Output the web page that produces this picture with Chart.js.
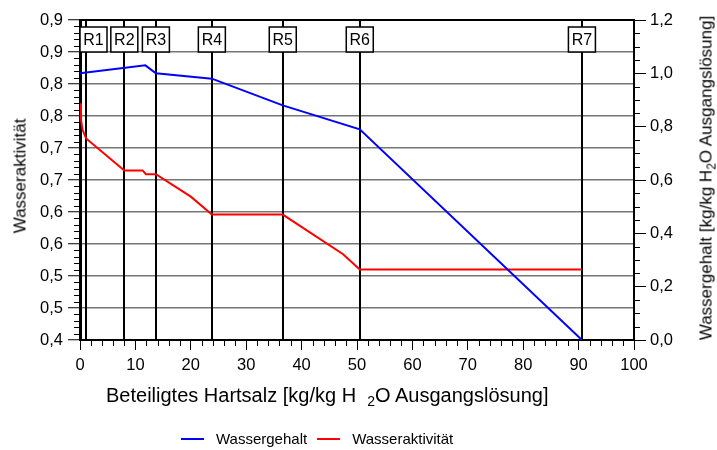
<!DOCTYPE html>
<html>
<head>
<meta charset="utf-8">
<script src="https://cdn.jsdelivr.net/npm/chart.js@4.4.1/dist/chart.umd.min.js"></script>
<style>
  body { margin: 0; background: #fff; }
  #wrap { position: relative; width: 717px; height: 450px; font-family: "Liberation Sans", Arial, sans-serif; color: #000; }
  #chart { position: absolute; left: 0; top: 0; }
  .ttl { position: absolute; white-space: nowrap; line-height: 1; }
  .rot { transform: translate(-50%, -50%) rotate(-90deg); }
  sub { font-size: 0.7em; vertical-align: -0.3em; line-height: 0; }
  #legend { position: absolute; top: 430px; left: 181px; display: flex; align-items: center; font-size: 15px; white-space: nowrap; }
  #legend span.line { display: inline-block; width: 23px; height: 2px; margin-right: 12px; }
  #legend .item { display: flex; align-items: center; margin-right: 10px; }
</style>
</head>
<body>
<div id="wrap">
  <canvas id="chart" width="717" height="450"></canvas>
  <div class="ttl" style="left:106px; top:385px; font-size:20px;">Beteiligtes Hartsalz [kg/kg H&nbsp;&nbsp;<sub>2</sub>O Ausgangslösung]</div>
  <div class="ttl rot" style="left:20px; top:176px; font-size:17px;">Wasseraktivität</div>
  <div class="ttl rot" style="left:706px; top:178px; font-size:17px;">Wassergehalt [kg/kg H<sub>2</sub>O Ausgangslösung]</div>
  <div id="legend">
    <div class="item"><span class="line" style="background:#0000ff"></span>Wassergehalt</div>
    <div class="item"><span class="line" style="background:#ff0000"></span>Wasseraktivität</div>
  </div>
</div>
<script>
// Wassergehalt (right axis)
const contentX = [0, 11.8, 13.7, 23.8, 36.6, 50.5, 90.6];
const contentY = [1.0, 1.03, 1.0, 0.98, 0.88, 0.79, 0.0];

// Wasseraktivität (left axis)
const activityX = [0, 0.18, 0.48, 1.1, 8.0, 11.3, 11.9, 13.7, 20.0, 23.8, 36.6, 47.5, 50.5, 90.6];
const activityY = [0.77, 0.744, 0.728, 0.715, 0.665, 0.665, 0.659, 0.659, 0.624, 0.596, 0.596, 0.534, 0.51, 0.51];

// region markers
const regionX = [1.1, 8.0, 13.7, 23.8, 36.6, 50.5, 90.6];
const regionLabels = ['R1', 'R2', 'R3', 'R4', 'R5', 'R6', 'R7'];

// tick labels
const xTickLabels = ['0', '10', '20', '30', '40', '50', '60', '70', '80', '90', '100'];
const activityTickLabels = ['0,4', '0,5', '0,5', '0,6', '0,6', '0,7', '0,7', '0,8', '0,8', '0,9', '0,9'];
const contentTickLabels = ['0,0', '0,2', '0,4', '0,6', '0,8', '1,0', '1,2'];

const FONT = '"Liberation Sans", Arial, sans-serif';

function toPoints(xs, ys) {
    return xs.map((x, i) => ({ x: x, y: ys[i] }));
}

function minorTicks(ctx, scale, from, step, count, every, len, side) {
    ctx.save();
    ctx.strokeStyle = '#000';
    ctx.lineWidth = 1;
    ctx.beginPath();
    for (let i = 0; i <= count; i++) {
        if (i % every === 0) continue;
        const p = Math.round(scale.getPixelForValue(from + i * step)) + 0.5;
        if (side === 'bottom') {
            ctx.moveTo(p, scale.top);
            ctx.lineTo(p, scale.top + len);
        } else if (side === 'left') {
            ctx.moveTo(scale.right, p);
            ctx.lineTo(scale.right - len, p);
        } else {
            ctx.moveTo(scale.left, p);
            ctx.lineTo(scale.left + len, p);
        }
    }
    ctx.stroke();
    ctx.restore();
}

const regionPlugin = {
    id: 'regions',
    beforeDatasetsDraw(chart) {
        const ctx = chart.ctx;
        const area = chart.chartArea;
        const x = chart.scales.x;
        ctx.save();
        ctx.strokeStyle = '#000';
        ctx.lineWidth = 2;
        regionX.forEach(v => {
            const p = Math.round(x.getPixelForValue(v));
            ctx.beginPath();
            ctx.moveTo(p, area.top);
            ctx.lineTo(p, area.bottom);
            ctx.stroke();
        });
        ctx.restore();
    },
    afterDraw(chart) {
        const ctx = chart.ctx;
        const area = chart.chartArea;
        const x = chart.scales.x;

        // frame top
        ctx.save();
        ctx.strokeStyle = '#000';
        ctx.lineWidth = 2;
        ctx.beginPath();
        ctx.moveTo(area.left, area.top);
        ctx.lineTo(area.right, area.top);
        ctx.stroke();

        // region boxes
        ctx.font = '16px ' + FONT;
        ctx.textAlign = 'center';
        ctx.textBaseline = 'middle';
        ctx.lineWidth = 1.5;
        let lastRight = -Infinity;
        regionX.forEach((v, i) => {
            const w = 27, h = 25;
            let left = x.getPixelForValue(v) - w / 2;
            if (left < area.left) left = area.left;
            if (left < lastRight + 2) left = lastRight + 2;
            lastRight = left + w;
            const top = area.top + 7;
            ctx.fillStyle = '#fff';
            ctx.fillRect(left, top, w, h);
            ctx.strokeRect(left, top, w, h);
            ctx.fillStyle = '#000';
            ctx.fillText(regionLabels[i], left + w / 2, top + h / 2 + 1);
        });
        ctx.restore();

        minorTicks(ctx, x, 0, 2, 50, 5, 6, 'bottom');
        minorTicks(ctx, chart.scales.y, 0.4, 0.01, 50, 5, 6, 'left');
        minorTicks(ctx, chart.scales.y1, 0, 0.05, 24, 4, 6, 'right');
    }
};

new Chart(document.getElementById('chart'), {
    type: 'line',
    data: {
        datasets: [{
            label: 'Wassergehalt',
            data: toPoints(contentX, contentY),
            yAxisID: 'y1',
            borderColor: '#0000ff',
            borderWidth: 2,
            pointRadius: 0,
            tension: 0,
            order: 0
        }, {
            label: 'Wasseraktivität',
            data: toPoints(activityX, activityY),
            yAxisID: 'y',
            borderColor: '#ff0000',
            borderWidth: 2,
            pointRadius: 0,
            tension: 0,
            order: 1
        }]
    },
    options: {
        responsive: false,
        animation: false,
        layout: { padding: { top: 20, left: 0, right: 0, bottom: 0 } },
        plugins: {
            legend: { display: false },
            tooltip: { enabled: false }
        },
        scales: {
            x: {
                type: 'linear',
                min: 0,
                max: 100,
                afterFit: s => { s.height = 110; },
                ticks: {
                    stepSize: 10,
                    maxRotation: 0,
                    autoSkip: false,
                    padding: 6,
                    color: '#000',
                    font: { family: FONT, size: 16.5 },
                    callback: (v, i) => xTickLabels[i]
                },
                grid: { drawOnChartArea: false, tickLength: 10, tickColor: '#000', tickWidth: 1 },
                border: { color: '#000', width: 2 }
            },
            y: {
                position: 'left',
                min: 0.4,
                max: 0.9,
                afterFit: s => { s.width = 80; },
                ticks: {
                    stepSize: 0.05,
                    autoSkip: false,
                    padding: 5,
                    color: '#000',
                    font: { family: FONT, size: 16.5 },
                    callback: (v, i) => activityTickLabels[i]
                },
                grid: { color: '#777', lineWidth: 1.5, tickLength: 12, tickColor: '#000', tickWidth: 1 },
                border: { color: '#000', width: 3 }
            },
            y1: {
                position: 'right',
                min: 0,
                max: 1.2,
                afterFit: s => { s.width = 83; },
                ticks: {
                    stepSize: 0.2,
                    autoSkip: false,
                    padding: 4,
                    color: '#000',
                    font: { family: FONT, size: 16.5 },
                    callback: (v, i) => contentTickLabels[i]
                },
                grid: { drawOnChartArea: false, tickLength: 12, tickColor: '#000', tickWidth: 1 },
                border: { color: '#000', width: 2 }
            }
        }
    },
    plugins: [regionPlugin]
});
</script>
</body>
</html>
